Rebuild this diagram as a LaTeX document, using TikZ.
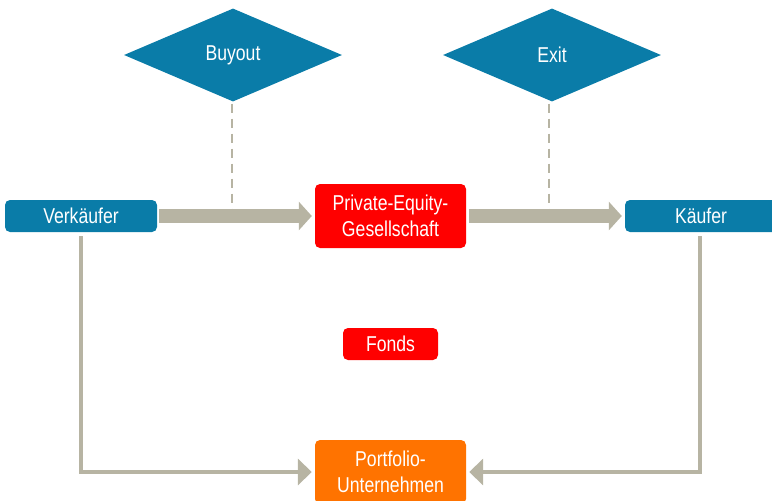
\documentclass[tikz,border=0pt]{standalone}
\usepackage{fontspec}
\setmainfont[FakeStretch=0.82]{Liberation Sans}
\usetikzlibrary{arrows.meta,shapes.geometric}
\definecolor{pblue}{HTML}{0A7CA8}
\definecolor{pred}{HTML}{FF0000}
\definecolor{porange}{HTML}{FF7300}
\definecolor{pgray}{HTML}{B7B4A3}
\tikzset{
  box/.style={rectangle, rounded corners=5pt, inner sep=0pt, text=white, font=\fontsize{21.5}{26}\selectfont, align=center},
  bluebox/.style={box, fill=pblue, minimum width=152pt, minimum height=32pt},
  redbox/.style={box, fill=pred},
  decision/.style={diamond, fill=pblue, inner sep=0pt, minimum width=218pt, minimum height=93pt, text=white, font=\fontsize{21.5}{26}\selectfont},
  bigarrow/.style={draw=pgray, line width=14pt, -{Triangle[length=13pt,width=28pt]}},
  thinarrow/.style={draw=pgray, line width=4pt, -{Triangle[length=14pt,width=26pt]}},
  dashline/.style={draw=pgray, line width=2.5pt, dash pattern=on 9pt off 6pt}
}
\begin{document}
\begin{tikzpicture}[x=1pt,y=-1pt]
\useasboundingbox (0,0) rectangle (772,501);
\node[decision] (buyout) at (233,55) {Buyout};
\node[decision] (exit) at (552,55) {Exit};
\node[bluebox] (verk) at (81,216) {Verkäufer};
\node[bluebox] (kauf) at (701,216) {Käufer};
\node[redbox, minimum width=151pt, minimum height=64pt] (pe) at (390.5,216) {Private-Equity-\\Gesellschaft};
\node[redbox, minimum width=95pt, minimum height=32pt] (fonds) at (390.5,344) {Fonds};
\node[box, fill=porange, minimum width=151pt, minimum height=64pt] (port) at (390.5,472) {Portfolio-\\Unternehmen};
\coordinate (bend1) at (232,210);
\coordinate (bend2) at (549,210);
\draw[dashline, shorten <=2pt] (bend1 |- buyout.south) -- (bend1);
\draw[dashline, shorten <=2pt] (bend2 |- exit.south) -- (bend2);
\draw[bigarrow, shorten <=2pt, shorten >=3pt] (verk.east) -- (pe.west);
\draw[bigarrow, shorten <=3pt, shorten >=3pt] (pe.east) -- (kauf.west);
\draw[thinarrow, shorten <=4pt, shorten >=3pt] (verk.south) |- (port.west);
\draw[thinarrow, shorten <=4pt, shorten >=3pt] ([xshift=-1pt]kauf.south) |- (port.east);
\end{tikzpicture}
\end{document}
